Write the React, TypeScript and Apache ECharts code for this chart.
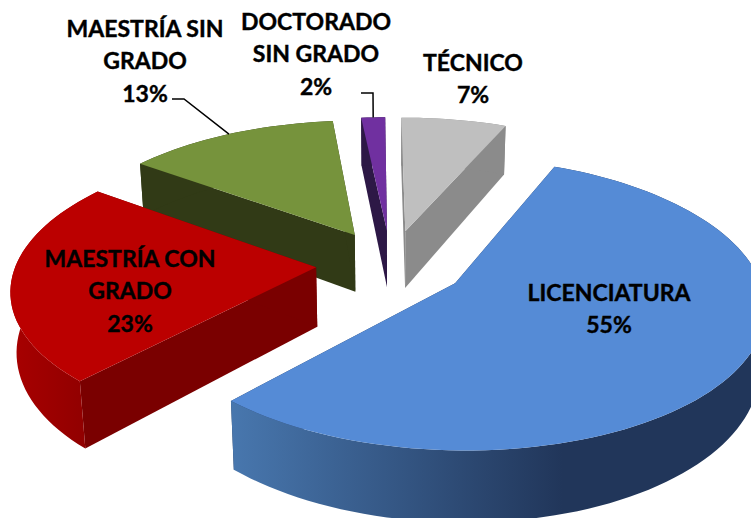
import React, { useEffect, useRef } from "react";
import * as echarts from "echarts";

const categories = ["TÉCNICO", "LICENCIATURA", "MAESTRÍA CON\nGRADO", "MAESTRÍA SIN\nGRADO", "DOCTORADO\nSIN GRADO"];
const values = [6.6, 55.4, 23.2, 13.3, 1.5];

const topColors = ["#bfbfbf", "#558bd6", "#bb0000", "#76933c", "#7030a0"];
const cutColors = ["#8b8b8b", "#26395a", "#7a0000", "#313a16", "#2d1846"];
const labelCenters = [[473, 78], [609, 308], [130, 290], [145, 60], [316, 53]];
const leaderElbows = [null, null, null, [[172, 99], [184, 99]], [[361, 93], [373, 93]]];

const W = 751, H = 518;
const CX = 391, CY = 264, A = 300, K = 138, P = 0.14, Q = 0.016, D = 60, DP = 0.07;
const EXPLODE = 0.25, START = -0.5;
const FONT = 'bold 23px Lato, "Noto Sans", sans-serif';

function project(u: number, t: number, h: number) {
  const s = 1 / (1 + P * t + Q * h);
  return [CX + A * u * s, CY - K * t * s + D * (1 - DP * t) * h * s];
}
const rad = (d: number) => (d * Math.PI) / 180;

function renderSlice(params: any, api: any) {
  const i = params.dataIndex;
  const total = values.reduce((a, b) => a + b, 0);
  const before = values.slice(0, i).reduce((a, b) => a + b, 0);
  const a0 = START + (before / total) * 360;
  const a1 = a0 + (api.value(0) / total) * 360;
  const mid = (a0 + a1) / 2;
  const ou = EXPLODE * Math.sin(rad(mid));
  const ot = EXPLODE * Math.cos(rad(mid));
  const steps = Math.max(4, Math.ceil((a1 - a0) / 2));
  const arc = (h: number) => {
    const pts: number[][] = [];
    for (let k = 0; k <= steps; k++) {
      const a = rad(a0 + ((a1 - a0) * k) / steps);
      pts.push(project(ou + Math.sin(a), ot + Math.cos(a), h));
    }
    return pts;
  };
  const apex0 = project(ou, ot, 0);
  const apex1 = project(ou, ot, 1);
  const top = arc(0);
  const bot = arc(1);
  const z = Math.round((1.5 - ot) * 100) * 10;

  let wallFill: any = cutColors[i];
  if (i === 1) {
    wallFill = new echarts.graphic.LinearGradient(0, 0, 1, 0, [
      { offset: 0, color: "#4877ae" },
      { offset: 0.62, color: "#21365a" },
      { offset: 1, color: "#21365a" },
    ]);
  } else if (i === 2) {
    wallFill = new echarts.graphic.LinearGradient(0, 0, 1, 0, [
      { offset: 0, color: "#a80000" },
      { offset: 1, color: "#8c0000" },
    ]);
  }

  const children: any[] = [
    { type: "polygon", z2: z, shape: { points: [top[0], apex0, apex1, bot[0]] }, style: { fill: cutColors[i] } },
    { type: "polygon", z2: z, shape: { points: [top[steps], apex0, apex1, bot[steps]] }, style: { fill: cutColors[i] } },
    { type: "polygon", z2: z + 1, shape: { points: [...top, ...bot.slice().reverse()] }, style: { fill: wallFill } },
    { type: "polygon", z2: z + 2, shape: { points: [apex0, ...top] }, style: { fill: topColors[i] } },
    {
      type: "text",
      z2: 10000,
      style: {
        text: `${categories[i]}\n${Math.round(api.value(0))}%`,
        x: labelCenters[i][0],
        y: labelCenters[i][1],
        font: FONT,
        fill: "#000000",
        stroke: "#000000",
        lineWidth: 0.4,
        align: "center",
        verticalAlign: "middle",
        lineHeight: 32.5,
      },
    },
  ];
  const elbow = leaderElbows[i];
  if (elbow) {
    const end = project(ou + Math.sin(rad(mid)), ot + Math.cos(rad(mid)), 0);
    children.push({
      type: "polyline",
      z2: 10001,
      shape: { points: [...elbow, end] },
      style: { stroke: "#000000", lineWidth: 1.5, fill: "none" },
    });
  }
  return { type: "group", children };
}

export default function App() {
  const ref = useRef<HTMLDivElement>(null);
  useEffect(() => {
    const chart = echarts.init(ref.current!, undefined, { renderer: "svg" });
    chart.setOption({
      animation: false,
      backgroundColor: "#ffffff",
      series: [
        {
          type: "custom",
          coordinateSystem: "none",
          renderItem: renderSlice,
          clip: false,
          data: values.map((v, i) => ({ name: categories[i], value: [v] })),
        },
      ],
    });
    return () => chart.dispose();
  }, []);
  return <div ref={ref} style={{ position: "absolute", left: 0, top: 0, width: W, height: H, overflow: "hidden" }} />;
}
